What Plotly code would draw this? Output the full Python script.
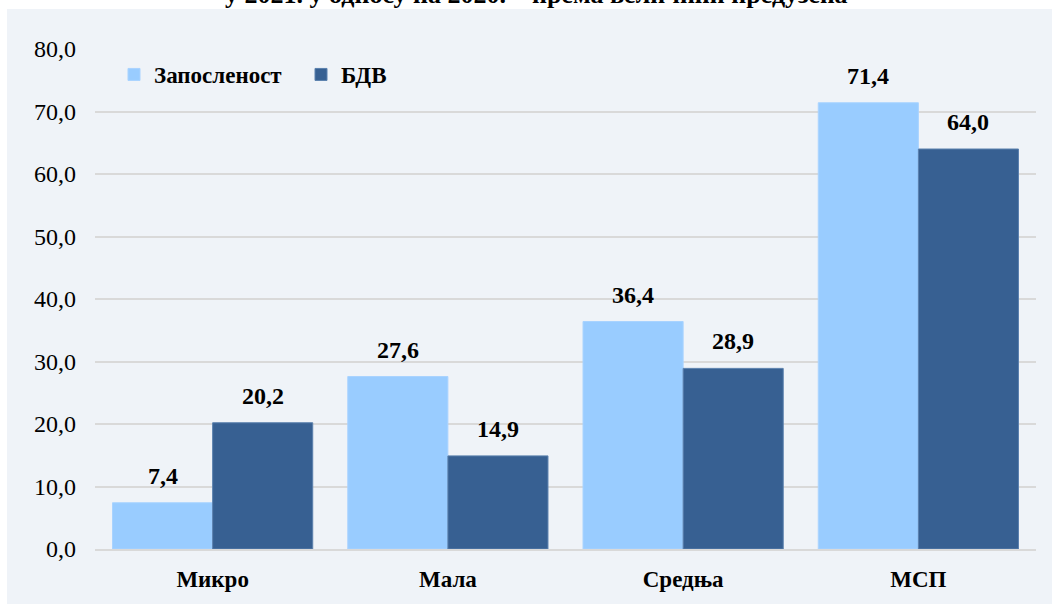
import plotly.graph_objects as go

categories = ["Микро", "Мала", "Средња", "МСП"]
zaposlenost = [7.4, 27.6, 36.4, 71.4]
bdv = [20.2, 14.9, 28.9, 64.0]
series_names = ["Запосленост", "БДВ"]
title_text = "у 2021. у односу на 2020. – према величини предузећа"

FONT = "Liberation Serif, Times New Roman, serif"
W, H = 1052, 604
L, R, T, B = 95, 16, 49, 55
PW, PH = W - L - R, H - T - B


def px_x(p):
    return (p - L) / PW


def px_y(p):
    return (H - B - p) / PH


fig = go.Figure()
fig.add_trace(go.Bar(
    x=categories, y=zaposlenost, name=series_names[0],
    marker=dict(color="#99CCFF", line=dict(width=1, color="#A9D3FF")),
))
fig.add_trace(go.Bar(
    x=categories, y=bdv, name=series_names[1],
    marker=dict(color="#376092", line=dict(width=1, color="#5B80AE")),
))

# value labels above bars
annotations = []
for series, shift in ((zaposlenost, -50), (bdv, 50)):
    for cat, val in zip(categories, series):
        annotations.append(dict(
            x=cat, y=val, xref="x", yref="y", xshift=shift, yshift=12,
            text="<b>" + f"{val:.1f}".replace(".", ",") + "</b>",
            showarrow=False, xanchor="center", yanchor="bottom",
            font=dict(family=FONT, size=24, color="black"),
        ))

annotations.append(dict(
    text="<b>" + title_text + "</b>", xref="paper", yref="paper",
    x=px_x(536), y=px_y(-5), xanchor="center", yanchor="middle",
    showarrow=False, font=dict(family=FONT, size=26, color="black"),
))

fig.update_layout(
    width=W, height=H,
    margin=dict(l=L, r=R, t=T, b=B),
    paper_bgcolor="white",
    plot_bgcolor="white",
    separators=", ",
    barmode="group",
    bargap=0.149,
    bargroupgap=0,
    font=dict(family=FONT, color="black"),
    showlegend=True,
    legend=dict(
        orientation="h", x=px_x(114), y=px_y(53), xanchor="left", yanchor="top",
        font=dict(family=FONT, size=23, color="black", weight="bold"),
        bgcolor="rgba(0,0,0,0)", itemwidth=30, traceorder="normal",
        entrywidth=142,
    ),
    shapes=[dict(
        type="rect", xref="paper", yref="paper", layer="below",
        x0=px_x(7), x1=px_x(1060), y0=px_y(610), y1=px_y(9),
        fillcolor="#EFF3F8", line=dict(width=0),
    )],
    annotations=annotations,
)

fig.update_yaxes(
    range=[0, 80], dtick=10, tickformat=".1f",
    showgrid=True, gridcolor="#D9D9D9", gridwidth=2,
    zeroline=False, showline=False,
    tickfont=dict(family=FONT, size=24, color="black"),
    ticks="", ticklabelstandoff=18, automargin=False,
)
fig.update_xaxes(
    showline=True, linecolor="#D9D9D9", linewidth=2,
    tickfont=dict(family=FONT, size=23, color="black", weight="bold"),
    ticks="", ticklabelstandoff=8, automargin=False,
)

fig.write_html("out.html", config={"displayModeBar": False},
               post_script="document.body.style.margin='0';")
